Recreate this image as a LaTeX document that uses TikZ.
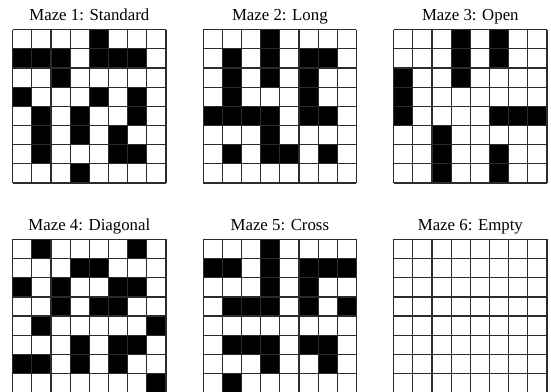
\documentclass[tikz,border=0pt]{standalone}
\usepackage{fontspec}
\setmainfont{Liberation Serif}
\usepackage{tikz}
\usetikzlibrary{positioning}
\definecolor{wallink}{HTML}{000000}
\definecolor{gridink}{HTML}{2B2B2B}
\newcommand{\mazecell}{19.16}
\tikzset{
  mazetitle/.style={font=\fontsize{12.6}{14}\selectfont,anchor=base,inner sep=0pt},
  wall/.style={fill=wallink},
  gridline/.style={draw=gridink,line width=0.95pt},
}
% black cells of one maze: left, top, list of col/row
\newcommand{\mazewalls}[3]{
  \begin{scope}[shift={(#1,#2)}]
    \foreach \c/\r in {#3}
      \fill[wall] (\c*\mazecell,\r*\mazecell) rectangle ++(\mazecell,\mazecell);
  \end{scope}
}
% grid and title of one maze: name, left, top, title
\newcommand{\mazegrid}[4]{
  \begin{scope}[shift={(#2,#3)}]
    \coordinate (#1) at (0,0);
    \foreach \i in {0,...,8} {
      \draw[gridline] (\i*\mazecell,0) -- (\i*\mazecell,8*\mazecell);
      \draw[gridline] (0,\i*\mazecell) -- (8*\mazecell,\i*\mazecell);
    }
    \node[mazetitle] (#1title) at (4*\mazecell,-9) {#4};
  \end{scope}
}

\begin{document}
\begin{tikzpicture}[x=0.75pt,y=-0.75pt]
  \useasboundingbox (0,0) rectangle (551,392);
  % walls
  \mazewalls{12.7}{29.7}{4/0,0/1,1/1,2/1,4/1,5/1,6/1,2/2,0/3,4/3,6/3,1/4,3/4,6/4,1/5,3/5,5/5,1/6,5/6,6/6,3/7}
  \mazewalls{203.2}{29.7}{3/0,1/1,3/1,5/1,6/1,1/2,3/2,5/2,1/3,5/3,0/4,1/4,2/4,3/4,5/4,6/4,3/5,1/6,3/6,4/6,6/6}
  \mazewalls{393.7}{29.7}{3/0,5/0,3/1,5/1,0/2,3/2,0/3,0/4,5/4,6/4,7/4,2/5,2/6,5/6,2/7,5/7}
  \mazewalls{12.7}{239.4}{1/0,6/0,3/1,4/1,0/2,2/2,5/2,6/2,2/3,4/3,5/3,1/4,7/4,3/5,5/5,6/5,0/6,1/6,3/6,5/6,7/7}
  \mazewalls{203.2}{239.4}{3/0,0/1,1/1,3/1,5/1,6/1,7/1,3/2,5/2,1/3,2/3,3/3,5/3,7/3,1/5,2/5,3/5,5/5,6/5,3/6,6/6,1/7}
  % grids and titles
  \mazegrid{standard}{12.7}{29.7}{Maze 1: Standard}
  \mazegrid{long}{203.2}{29.7}{Maze 2: Long}
  \mazegrid{open}{393.7}{29.7}{Maze 3: Open}
  \mazegrid{diagonal}{12.7}{239.4}{Maze 4: Diagonal}
  \mazegrid{cross}{203.2}{239.4}{Maze 5: Cross}
  \mazegrid{empty}{393.7}{239.4}{Maze 6: Empty}
\end{tikzpicture}
\end{document}
